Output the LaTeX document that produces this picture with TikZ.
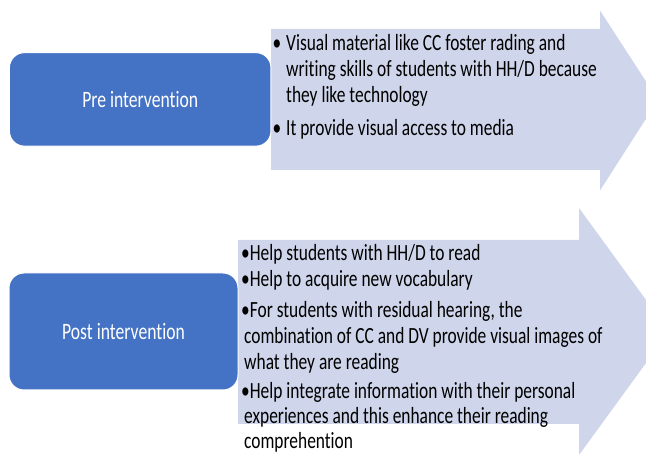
\documentclass[tikz,border=0pt]{standalone}
\usepackage{fontspec}
\setmainfont{Carlito}[FakeStretch=0.75,RawFeature=-liga]
\definecolor{boxblue}{HTML}{4472C4}
\definecolor{arrowfill}{HTML}{CFD5EA}
\tikzset{
  phasebox/.style={draw=white, line width=1pt, fill=boxblue, rounded corners=15pt,
    text=white, inner sep=0pt, font=\fontsize{23.5}{26}\selectfont},
  bigarrow/.style={fill=arrowfill, draw=none},
  itemtext/.style={anchor=base west, inner sep=0pt, text=black,
    font=\fontsize{23.2}{26}\selectfont}
}
\begin{document}
\begin{tikzpicture}[x=1pt,y=-1pt]
\useasboundingbox (0,0) rectangle (646,454);
\begin{scope}
\clip (0,0) rectangle (646,454);
% arrows
\fill[bigarrow] (271,29) -- (600,29) -- (600,10.5) -- (658,100) -- (600,190.5) -- (600,170) -- (271,170) -- cycle;
\fill[bigarrow] (238,240) -- (579,240) -- (579,208) -- (669,331.5) -- (579,455) -- (579,424) -- (238,424) -- cycle;
\end{scope}
% boxes
\node[phasebox, minimum width=261.5pt, minimum height=93.5pt] (pre) at (140.2,99.4) {Pre intervention};
\node[phasebox, minimum width=229pt, minimum height=117pt] (post) at (123.5,331.5) {Post intervention};
% pre items
\node[itemtext] (preA) at (271.5,50.7) {\begin{tabular}[t]{@{}l@{}l@{}}
\makebox[14.5pt][l]{\hspace{1pt}•} & Visual material like CC foster rading and\\
 & writing skills of students with HH/D because\\
 & they like technology
\end{tabular}};
\node[itemtext] (preB) at (271.5,136) {\begin{tabular}[t]{@{}l@{}l@{}}
\makebox[14.5pt][l]{\hspace{1pt}•} & It provide visual access to media
\end{tabular}};
% post items
\node[itemtext] (postA) at (241,260.7) {\begin{tabular}[t]{@{}l@{}}
•Help students with HH/D to read
\end{tabular}};
\node[itemtext] (postB) at (241,287) {\begin{tabular}[t]{@{}l@{}}
•Help to acquire new vocabulary
\end{tabular}};
\node[itemtext] (postC) at (241,318) {\begin{tabular}[t]{@{}l@{}}
•For students with residual hearing, the\\
\hspace*{3pt}combination of CC and DV provide visual images of\\
\hspace*{3pt}what they are reading
\end{tabular}};
\node[itemtext, font=\fontsize{23.2}{25}\selectfont] (postD) at (241,399) {\begin{tabular}[t]{@{}l@{}}
•Help integrate information with their personal\\
\hspace*{3pt}experiences and this enhance their reading\\
\hspace*{3pt}comprehention
\end{tabular}};
\end{tikzpicture}
\end{document}
